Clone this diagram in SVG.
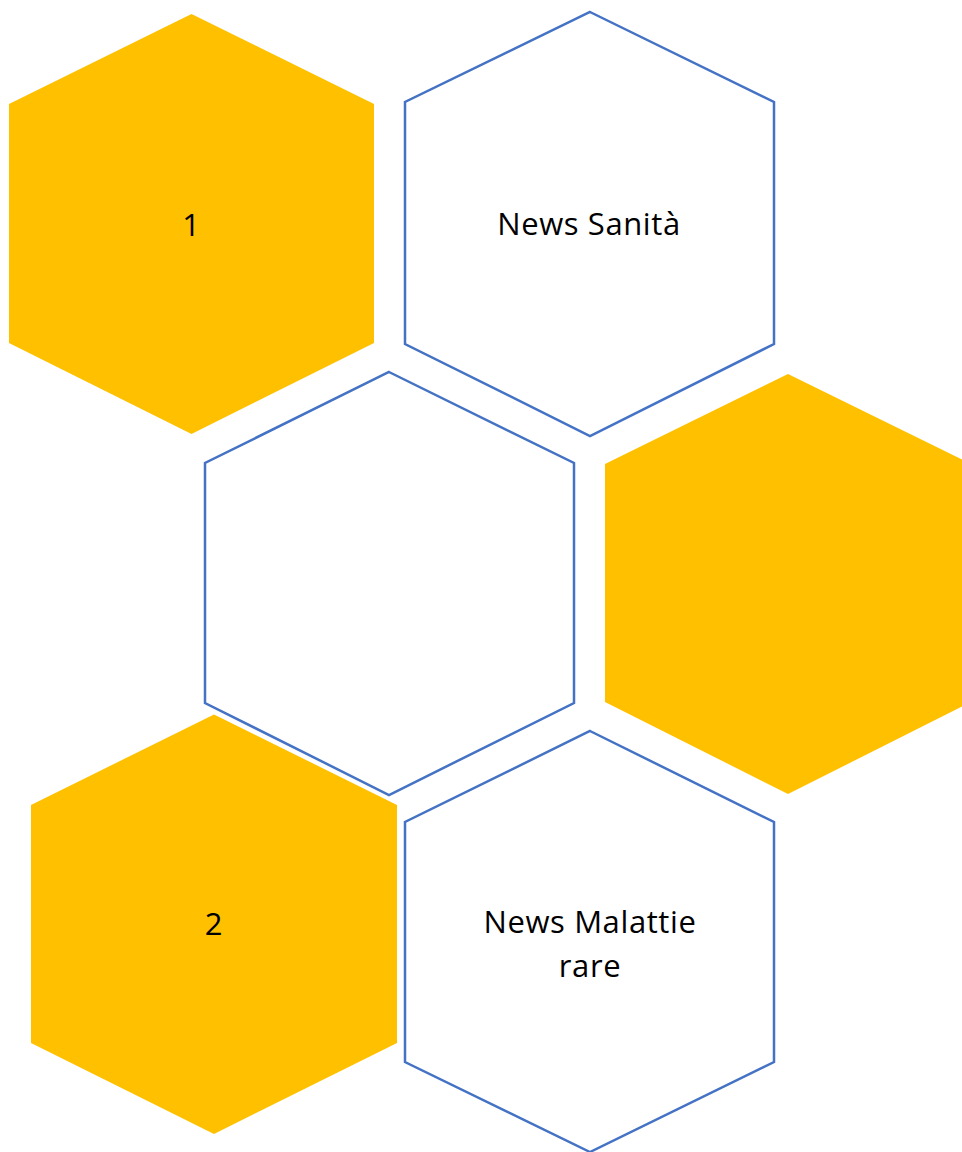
<svg xmlns="http://www.w3.org/2000/svg" width="962" height="1152" viewBox="0 0 962 1152">
<style>
.o{fill:#FFC000;stroke:none}
.w{fill:#FFFFFF;stroke:#4472C4;stroke-width:2.5}
.t{font-family:"Open Sans","Liberation Sans",Arial,sans-serif;font-size:31px;letter-spacing:0.6px;fill:#000;text-anchor:middle}
</style>
<rect width="962" height="1152" fill="#FFFFFF"/>
<g id="hex1"><polygon class="o" points="191.5,14 374,104 374,343 191.5,434 9,343 9,104"/><text class="t" x="191.5" y="236">1</text></g>
<g id="hex2"><polygon class="w" points="590,12 774,102 774,344 590,436 405,344 405,102"/><text class="t" x="589" y="235">News Sanità</text></g>
<g id="hex3"><polygon class="w" points="389,372 574,463 574,703 389,795 205,703 205,463"/></g>
<g id="hex4"><polygon class="o" points="788,374 971,464 971,702 788,794 605,702 605,464"/></g>
<g id="hex5"><polygon class="o" points="214,714.5 397,805 397,1043 214,1134 31,1043 31,805"/><text class="t" x="214" y="935">2</text></g>
<g id="hex6"><polygon class="w" points="590,731 774,822 774,1062 590,1152 405,1062 405,822"/><text class="t" x="590" y="933">News Malattie</text><text class="t" x="590" y="977">rare</text></g>
<g id="connectors"></g>
</svg>
